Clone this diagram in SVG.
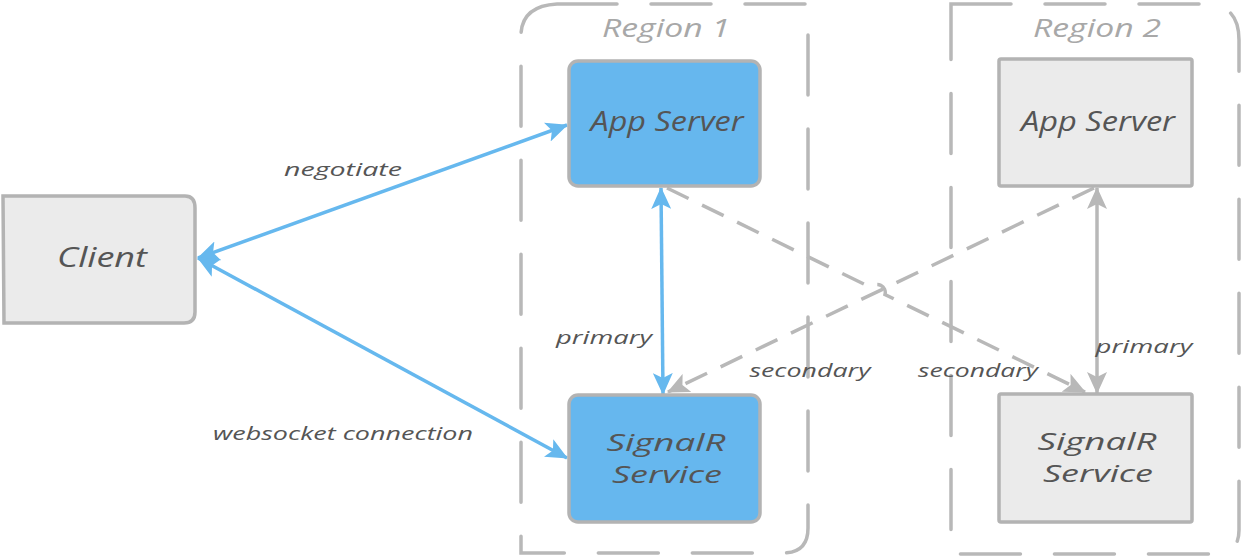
<svg xmlns="http://www.w3.org/2000/svg" width="1243" height="558" viewBox="0 0 1243 558">
<style>
.region{fill:none;stroke:#b8b8b8;stroke-width:3.5;stroke-dasharray:60 34;stroke-linecap:round}
.rlabel{font-family:"Open Sans","DejaVu Sans",sans-serif;font-style:italic;font-size:26px;fill:#a8a8a8;text-anchor:middle}
.box{stroke:#b3b3b3;stroke-width:3.5}
.blue{fill:#66b7ee}
.grey{fill:#ebebeb}
.ntext{font-family:"Open Sans","DejaVu Sans",sans-serif;font-style:italic;font-size:27px;fill:#555;text-anchor:middle}
.ntext2{font-family:"Open Sans","DejaVu Sans",sans-serif;font-style:italic;font-size:23px;fill:#555;text-anchor:middle}
.elabel{font-family:"Open Sans","DejaVu Sans",sans-serif;font-style:italic;font-size:19px;fill:#555;text-anchor:middle}
.cb{fill:none;stroke:#66b8ee;stroke-width:3.5}
.cg{fill:none;stroke:#b8b8b8;stroke-width:3.5}
.dash{stroke-dasharray:24 15}
</style>
<defs>
<marker id="ab" viewBox="0 0 22 20" refX="21" refY="10" markerWidth="22" markerHeight="20" markerUnits="userSpaceOnUse" orient="auto-start-reverse">
<path d="M0,0 L22,10 L0,20 L5,10 Z" fill="#66b8ee"/>
</marker>
<marker id="ag" viewBox="0 0 22 20" refX="21" refY="10" markerWidth="22" markerHeight="20" markerUnits="userSpaceOnUse" orient="auto-start-reverse">
<path d="M0,0 L22,10 L0,20 L5,10 Z" fill="#b8b8b8"/>
</marker>
</defs>

<g id="region1">
<path class="region" d="M557,4 L808,4 L808,528 Q808,553 783,553 L521,553 L521,36 Q521,6 557,4"/>
<text class="rlabel" x="666" y="37" textLength="128" lengthAdjust="spacingAndGlyphs">Region 1</text>
</g>
<g id="region2">
<path class="region" d="M951,4 L1205,4 Q1239,4 1239,40 L1239,530 Q1239,554 1215,554 L951,554 Z"/>
<text class="rlabel" x="1097" y="37" textLength="128" lengthAdjust="spacingAndGlyphs">Region 2</text>
</g>

<g id="connectors">
<line class="cb" x1="198" y1="258" x2="567" y2="125" marker-start="url(#ab)" marker-end="url(#ab)"/>
<line class="cb" x1="198" y1="258" x2="567" y2="458" marker-start="url(#ab)" marker-end="url(#ab)"/>
<line class="cb" x1="661" y1="188" x2="663" y2="394" marker-start="url(#ab)" marker-end="url(#ab)"/>
<line class="cg" x1="1097" y1="188" x2="1097" y2="393" marker-start="url(#ag)" marker-end="url(#ag)"/>
<line class="cg dash" x1="1094" y1="188" x2="668" y2="392" marker-end="url(#ag)"/>
<path class="cg dash" d="M667,188 L871,287.5 A8,8 0 0 1 885,294.5 L1085,392" marker-end="url(#ag)"/>
<text class="elabel" x="343" y="176" textLength="118" lengthAdjust="spacingAndGlyphs">negotiate</text>
<text class="elabel" x="343" y="440" textLength="260" lengthAdjust="spacingAndGlyphs">websocket connection</text>
<text class="elabel" x="604" y="344" textLength="96" lengthAdjust="spacingAndGlyphs">primary</text>
<text class="elabel" x="810" y="377" textLength="121" lengthAdjust="spacingAndGlyphs">secondary</text>
<text class="elabel" x="978" y="377" textLength="120" lengthAdjust="spacingAndGlyphs">secondary</text>
<text class="elabel" x="1144" y="353" textLength="97" lengthAdjust="spacingAndGlyphs">primary</text>
</g>

<g id="client">
<path class="box grey" d="M3,196 L185,196 Q195,196 195,208 L195,312 Q195,323 184,323 L4,323 Z"/>
<text class="ntext" x="102" y="267" textLength="90" lengthAdjust="spacingAndGlyphs">Client</text>
</g>
<g id="appserver1">
<rect class="box blue" x="569" y="61" width="191" height="125" rx="9"/>
<text class="ntext" x="667" y="131" textLength="153" lengthAdjust="spacingAndGlyphs">App Server</text>
</g>
<g id="signalr1">
<rect class="box blue" x="569" y="395" width="191" height="127" rx="9"/>
<text class="ntext2" x="666" y="451" textLength="119" lengthAdjust="spacingAndGlyphs">SignalR</text>
<text class="ntext2" x="667" y="483" textLength="110" lengthAdjust="spacingAndGlyphs">Service</text>
</g>
<g id="appserver2">
<rect class="box grey" x="999" y="59" width="193" height="127" rx="2"/>
<text class="ntext" x="1098" y="131" textLength="154" lengthAdjust="spacingAndGlyphs">App Server</text>
</g>
<g id="signalr2">
<rect class="box grey" x="999" y="394" width="193" height="128" rx="2"/>
<text class="ntext2" x="1097" y="450" textLength="119" lengthAdjust="spacingAndGlyphs">SignalR</text>
<text class="ntext2" x="1098" y="482" textLength="110" lengthAdjust="spacingAndGlyphs">Service</text>
</g>
</svg>
